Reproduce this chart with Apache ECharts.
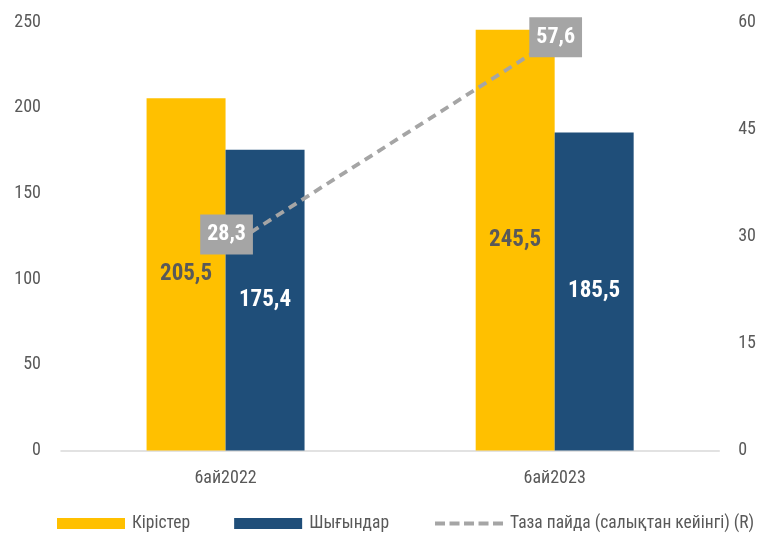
<!DOCTYPE html>
<html><head><meta charset="utf-8">
<script src="https://cdn.jsdelivr.net/npm/echarts@6/dist/echarts.min.js"></script>
<style>html,body{margin:0;padding:0;background:#fff}#c{width:759px;height:537px}</style>
</head><body><div id="c"></div>
<script>
const categories = ['6ай2022', '6ай2023'];
const revenue = [205.5, 245.5];
const expenses = [175.4, 185.5];
const netProfit = [28.3, 57.6];
const leftTicks = [0, 50, 100, 150, 200, 250];
const rightTicks = [0, 15, 30, 45, 60];
const seriesNames = ['Кірістер', 'Шығындар', 'Таза пайда (салықтан кейінгі) (R)'];

const FONT = "'Roboto Condensed', sans-serif";
const fmt = v => String(v).replace('.', ',');
const lineLabelOffsets = [[1, -14], [1, -2]];

const chart = echarts.init(document.getElementById('c'), null, {renderer: 'canvas'});
chart.setOption({
  animation: false,
  textStyle: {fontFamily: FONT},
  grid: {left: 61, right: 38, top: 22, bottom: 86.5},
  legend: {
    left: 57, top: 513, width: 740, padding: 0, itemGap: 44, itemWidth: 68, itemHeight: 11,
    data: [
      {name: seriesNames[0], icon: 'rect'},
      {name: seriesNames[1], icon: 'rect'},
      {name: seriesNames[2], itemStyle: {color: 'rgba(0,0,0,0)', borderWidth: 0, opacity: 0},
       lineStyle: {width: 4, type: [10, 4.5], color: '#A5A5A5'}}
    ],
    textStyle: {fontFamily: FONT, fontSize: 17.5, color: '#595959', lineHeight: 21, padding: [0, 0, 0, 2]}
  },
  xAxis: {
    type: 'category', data: categories,
    axisLine: {show: true, lineStyle: {color: '#D9D9D9', width: 1.5}},
    axisTick: {show: false},
    axisLabel: {fontFamily: FONT, fontSize: 18, color: '#595959', margin: 19}
  },
  yAxis: [
    {type: 'value', min: leftTicks[0], max: leftTicks[leftTicks.length - 1], interval: leftTicks[1] - leftTicks[0],
     splitLine: {show: false}, axisLine: {show: false}, axisTick: {show: false},
     axisLabel: {fontFamily: FONT, fontSize: 18, color: '#595959', margin: 20}},
    {type: 'value', min: rightTicks[0], max: rightTicks[rightTicks.length - 1], interval: rightTicks[1] - rightTicks[0],
     splitLine: {show: false}, axisLine: {show: false}, axisTick: {show: false},
     axisLabel: {fontFamily: FONT, fontSize: 18, color: '#595959', margin: 19}}
  ],
  series: [
    {name: seriesNames[0], type: 'bar', data: revenue, barWidth: '24%', barGap: '0%',
     itemStyle: {color: '#FFC000'},
     label: {show: true, position: 'inside', formatter: p => fmt(p.value),
             fontFamily: FONT, fontSize: 23, fontWeight: 'bold', color: '#595959'}},
    {name: seriesNames[1], type: 'bar', data: expenses, barWidth: '24%', barGap: '0%',
     itemStyle: {color: '#1F4E79'},
     label: {show: true, position: 'inside', formatter: p => fmt(p.value),
             fontFamily: FONT, fontSize: 23, fontWeight: 'bold', color: '#FFFFFF'}},
    {name: seriesNames[2], type: 'line', yAxisIndex: 1, symbol: 'circle', symbolSize: 2, showSymbol: true, z: 5,
     data: netProfit.map((v, i) => ({value: v, label: {offset: lineLabelOffsets[i]}})),
     lineStyle: {color: '#A5A5A5', width: 3.8, type: [9, 6]},
     itemStyle: {color: '#A5A5A5'},
     label: {show: true, position: 'inside', formatter: p => fmt(p.value),
             fontFamily: FONT, fontSize: 22, fontWeight: 'bold', color: '#FFFFFF',
             backgroundColor: '#A5A5A5', padding: [9, 7, 9, 7], lineHeight: 22}}
  ]
});
</script></body></html>
